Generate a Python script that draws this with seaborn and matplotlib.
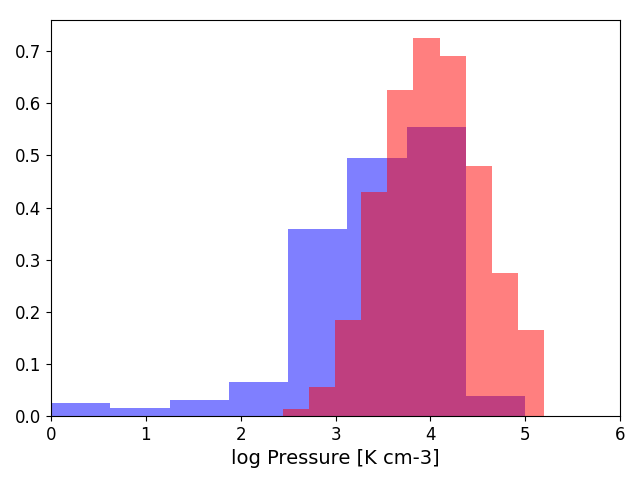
import numpy as np
import pandas as pd
import matplotlib
matplotlib.use("Agg")
import matplotlib.pyplot as plt
import seaborn as sns

# Blue histogram (8 bins from 0 to 5)
blue_edges = [0.0, 0.625, 1.25, 1.875, 2.5, 3.125, 3.75, 4.375, 5.0]
blue_heights = [0.025, 0.016, 0.030, 0.065, 0.359, 0.495, 0.554, 0.038]

# Red histogram (10 bins from ~2.45 to 5.2)
red_edges = [2.447, 2.722, 2.997, 3.272, 3.547, 3.822, 4.097, 4.372, 4.647, 4.922, 5.197]
red_heights = [0.013, 0.056, 0.184, 0.430, 0.625, 0.725, 0.690, 0.479, 0.274, 0.165]

xlabel = "log Pressure [K cm-3]"

fig, ax = plt.subplots(figsize=(6.4, 4.8), dpi=100)

def centers(edges):
    e = np.asarray(edges)
    return (e[:-1] + e[1:]) / 2

sns.histplot(x=centers(blue_edges), weights=blue_heights, bins=blue_edges,
             stat="count", color=(0, 0, 1), alpha=0.5, linewidth=0, ax=ax)
sns.histplot(x=centers(red_edges), weights=red_heights, bins=red_edges,
             stat="count", color=(1, 0, 0), alpha=0.5, linewidth=0, ax=ax)

ax.set_xlim(0, 6)
ax.set_ylim(0, 0.76)
ax.set_xlabel(xlabel, fontsize=14)
ax.set_ylabel("")
ax.tick_params(labelsize=12)
fig.subplots_adjust(left=51/640, right=620/640, top=1-20/480, bottom=1-416/480)
fig.savefig("out.png", dpi=100)
